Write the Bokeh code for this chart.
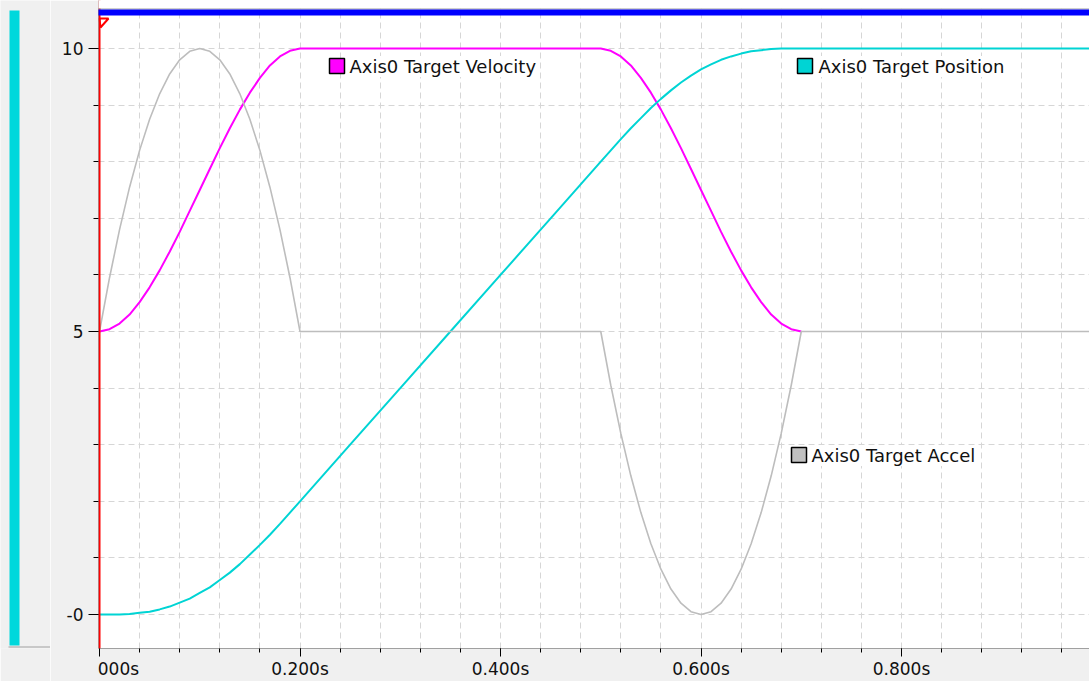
from bokeh.plotting import figure
from bokeh.layouts import row
from bokeh.models import (Range1d, FixedTicker, BoxAnnotation, Label, Span,
                          PolyAnnotation, ColumnDataSource)
from bokeh.embed import file_html
from bokeh.resources import INLINE

NAN = float("nan")

# ---- trace data (time in seconds) ----
time_s = [0.00, 0.01, 0.02, 0.03, 0.04, 0.05, 0.06, 0.07, 0.08, 0.09, 0.10,
          0.11, 0.12, 0.13, 0.14, 0.15, 0.16, 0.17, 0.18, 0.19, 0.20,
          0.25, 0.30, 0.35, 0.40, 0.45,
          0.50, 0.51, 0.52, 0.53, 0.54, 0.55, 0.56, 0.57, 0.58, 0.59, 0.60,
          0.61, 0.62, 0.63, 0.64, 0.65, 0.66, 0.67, 0.68, 0.69, 0.70,
          0.80, 0.90, 0.99]

target_position = [0.00, 0.00, 0.00, 0.01, 0.03, 0.05, 0.09, 0.14, 0.21, 0.28, 0.38,
                   0.48, 0.61, 0.74, 0.89, 1.06, 1.23, 1.41, 1.60, 1.80, 2.00,
                   3.00, 4.00, 5.00, 6.00, 7.00,
                   8.00, 8.20, 8.40, 8.59, 8.77, 8.95, 9.11, 9.26, 9.40, 9.52, 9.63,
                   9.72, 9.80, 9.86, 9.91, 9.95, 9.97, 9.99, 10.00, 10.00, 10.00,
                   10.00, 10.00, 10.00]

# velocity trace is hidden under the acceleration trace once both sit at 5
target_velocity = [5.00, 5.04, 5.14, 5.30, 5.52, 5.78, 6.08, 6.41, 6.76, 7.13, 7.50,
                   7.87, 8.24, 8.59, 8.92, 9.22, 9.48, 9.70, 9.86, 9.96, 10.00,
                   10.00, 10.00, 10.00, 10.00, 10.00,
                   10.00, 9.96, 9.86, 9.70, 9.48, 9.22, 8.92, 8.59, 8.24, 7.87, 7.50,
                   7.13, 6.76, 6.41, 6.08, 5.78, 5.52, 5.30, 5.14, 5.04, 5.00,
                   NAN, NAN, NAN]

target_accel = [5.00, 5.95, 6.80, 7.55, 8.20, 8.75, 9.20, 9.55, 9.80, 9.95, 10.00,
                9.95, 9.80, 9.55, 9.20, 8.75, 8.20, 7.55, 6.80, 5.95, 5.00,
                5.00, 5.00, 5.00, 5.00, 5.00,
                5.00, 4.05, 3.20, 2.45, 1.80, 1.25, 0.80, 0.45, 0.20, 0.05, 0.00,
                0.05, 0.20, 0.45, 0.80, 1.25, 1.80, 2.45, 3.20, 4.05, 5.00,
                5.00, 5.00, 5.00]

series_names = ["Axis0 Target Accel", "Axis0 Target Velocity", "Axis0 Target Position"]

# ---- axis ticks ----
x_major = [0.0, 0.2, 0.4, 0.6, 0.8]
x_major_labels = ["\u00a0" * 7 + "000s", "0.200s", "0.400s", "0.600s", "0.800s"]
x_minor = [round(0.04 * i, 2) for i in range(25)]
y_major = [0, 5, 10]
y_major_labels = ["-0", "5", "10"]
y_minor = list(range(0, 11))

FONT = "DejaVu Sans"
PANEL = "#F0F0F0"
FRAME_LINE = "#A0A0A0"
SERIES_COLORS = {"accel": "#BDBDBD", "velocity": "#FF00FF", "position": "#00D4D4"}

# ---- left side strip (separate narrow panel; its frame is 648 px tall) ----
side = figure(width=50, height=681, output_backend="svg", toolbar_location=None,
              x_range=Range1d(0, 50), y_range=Range1d(648, 0),
              x_axis_type=None, y_axis_type=None,
              min_border_left=0, min_border_right=0, min_border_top=0,
              min_border_bottom=0)
side.background_fill_color = PANEL
side.border_fill_color = PANEL
side.outline_line_color = None
side.grid.visible = False
side.quad(left=[9], right=[19], top=[10], bottom=[645],
          fill_color="#00D8DC", line_color=None)
side.quad(left=[8], right=[50], top=[646], bottom=[647],
          fill_color=FRAME_LINE, line_color=None)

# ---- main trend chart ----
p = figure(width=1039, height=681, output_backend="svg", toolbar_location=None,
           x_range=Range1d(-0.001, 0.9875), y_range=Range1d(-0.6007, 10.848),
           min_border_left=48, min_border_right=0, min_border_top=0,
           min_border_bottom=33)
p.border_fill_color = PANEL
p.background_fill_color = "white"
p.outline_line_color = None

# x axis
xa = p.xaxis[0]
xa.ticker = FixedTicker(ticks=x_major, minor_ticks=x_minor)
xa.major_label_overrides = dict(zip(x_major, x_major_labels))
xa.axis_line_color = FRAME_LINE
xa.major_tick_line_color = "black"
xa.minor_tick_line_color = "black"
xa.major_tick_in = 0
xa.major_tick_out = 8
xa.minor_tick_in = 0
xa.minor_tick_out = 4
xa.major_label_standoff = 2
xa.major_label_text_font = FONT
xa.major_label_text_font_size = "17px"
xa.major_label_text_color = "#111111"

# y axis
ya = p.yaxis[0]
ya.ticker = FixedTicker(ticks=y_major, minor_ticks=y_minor)
ya.major_label_overrides = dict(zip(y_major, y_major_labels))
ya.axis_line_color = FRAME_LINE
ya.major_tick_line_color = "black"
ya.minor_tick_line_color = "black"
ya.major_tick_in = 0
ya.major_tick_out = 10
ya.minor_tick_in = 0
ya.minor_tick_out = 5
ya.major_label_standoff = 5
ya.major_label_text_font = FONT
ya.major_label_text_font_size = "17px"
ya.major_label_text_color = "#111111"

# dashed grid
p.xgrid.ticker = FixedTicker(ticks=x_minor)
p.ygrid.ticker = FixedTicker(ticks=y_minor)
for g in (p.xgrid, p.ygrid):
    g.grid_line_color = "#D6D6D6"
    g.grid_line_dash = "6 4"
    g.grid_line_width = 1

src = ColumnDataSource(dict(t=time_s, pos=target_position,
                            vel=target_velocity, acc=target_accel))
p.line("t", "vel", source=src, line_color=SERIES_COLORS["velocity"], line_width=2)
p.line("t", "pos", source=src, line_color=SERIES_COLORS["position"], line_width=2)
p.line("t", "acc", source=src, line_color=SERIES_COLORS["accel"], line_width=1.6)

# cursor at t = 0
p.add_layout(Span(location=0, dimension="height", line_color="#FF0000", line_width=2))
p.add_layout(PolyAnnotation(xs=[1, 10, 2], ys=[630, 630, 621],
                            xs_units="screen", ys_units="screen",
                            fill_color=None, line_color="#FF0000",
                            line_width=2, line_alpha=1))


def box(left, right, bottom, top, color, line=None):
    return BoxAnnotation(left=left, right=right, bottom=bottom, top=top,
                         left_units="screen", right_units="screen",
                         bottom_units="screen", top_units="screen",
                         fill_color=color, fill_alpha=1,
                         line_color=line, line_alpha=1, line_width=1.5)


# header: white margin, thin rule, blue status bar
p.add_layout(box(-1, 992, 640, 650, "white"))
p.add_layout(box(-1, 992, 639, 640, FRAME_LINE))
p.add_layout(box(-1, 992, 633, 639, "#0000FF"))

# trace tags
tags = [
    (series_names[1], SERIES_COLORS["velocity"], 231, 575, 251, 582),
    (series_names[2], SERIES_COLORS["position"], 699, 575, 720, 582),
    (series_names[0], "#C0C0C0", 693, 186, 713, 193),
]
for name, color, bx, by, tx, ty in tags:
    p.add_layout(box(bx, bx + 15, by, by + 15, color, line="black"))
    p.add_layout(Label(x=tx, y=ty, x_units="screen", y_units="screen", text=name,
                       text_font=FONT, text_font_size="18px", text_color="#111111",
                       text_baseline="middle", text_align="left",
                       background_fill_color="white", background_fill_alpha=1))

layout = row(side, p, spacing=0)
open("out.html", "w").write(file_html(layout, INLINE))
